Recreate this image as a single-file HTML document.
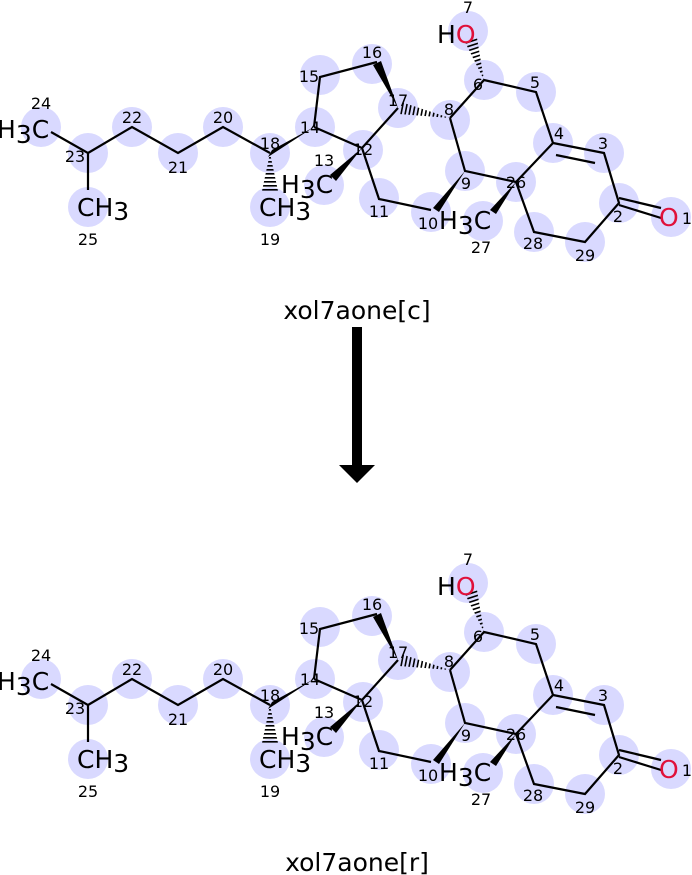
<!DOCTYPE html>
<html><head><meta charset="utf-8"><style>
html,body{margin:0;padding:0;background:#fff;}
svg{display:block;font-family:"DejaVu Sans","Liberation Sans",sans-serif;}
.c{fill:#d9d9ff;}
.b{stroke:#000;stroke-width:2.2;fill:none;}
.n{font-size:16px;text-anchor:middle;fill:#000;}
.a{font-size:25px;fill:#000;}
.t{font-size:25px;fill:#000;}
.o{fill:#e0103a;}
</style></head><body>
<svg width="692" height="875" viewBox="0 0 692 875" xmlns="http://www.w3.org/2000/svg">
<defs>
<clipPath id="h1"><polygon points="270,153 262,191 278,191"/></clipPath>
<clipPath id="h2"><polygon points="450,118 401,102 399,114"/></clipPath>
<clipPath id="h3"><polygon points="484,80 477,38 465,42"/></clipPath>
<clipPath id="h1b"><polygon points="270,705 262,743 278,743"/></clipPath>
<clipPath id="h2b"><polygon points="450,670 401,654 399,666"/></clipPath>
<clipPath id="h3b"><polygon points="484,632 477,590 465,594"/></clipPath>
</defs>

<g>
<g class="c">
<circle cx="41" cy="127" r="20"/><circle cx="88" cy="153" r="20"/><circle cx="88" cy="207" r="20"/>
<circle cx="132" cy="127" r="20"/><circle cx="178" cy="153" r="20"/><circle cx="223" cy="127" r="20"/>
<circle cx="270" cy="153" r="20"/><circle cx="270" cy="207" r="20"/><circle cx="315" cy="127" r="20"/>
<circle cx="320" cy="75" r="20"/><circle cx="372" cy="64" r="20"/><circle cx="398" cy="108" r="20"/>
<circle cx="363" cy="150" r="20"/><circle cx="324" cy="185" r="20"/><circle cx="379" cy="198" r="20"/>
<circle cx="431" cy="212" r="20"/><circle cx="465" cy="171" r="20"/><circle cx="450" cy="120" r="20"/>
<circle cx="484" cy="80" r="20"/><circle cx="468" cy="31" r="20"/><circle cx="536" cy="92" r="20"/>
<circle cx="553" cy="143" r="20"/><circle cx="604" cy="153" r="20"/><circle cx="619" cy="203" r="20"/>
<circle cx="671" cy="217" r="20"/><circle cx="585" cy="242" r="20"/><circle cx="534" cy="232" r="20"/>
<circle cx="516" cy="182" r="20"/><circle cx="483" cy="221" r="20"/>
</g>
<path class="b" d="M51,132 L88,153 L88,190 M88,153 L132,127 L178,153 L223,127 L270,153 M314,127 L362,148 M314,127 L320,77 L377,62 M398,108 L362,148 L379,199 L431,210 M450,118 L465,171 L516,182 M450,118 L484,80 L536,92 L553,143 L604,153 L619,203 L585,242 L534,232 L516,182 L553,143 M556,155 L595,163 M619,198 L661,208 M619,205 L661,218"/>
<polygon points="314,127 272,150 268,157"/>
<polygon points="398,108 381,61 373,65"/>
<polygon points="362,148 336,181 330,175"/>
<polygon points="465,171 439,212 433,208"/>
<polygon points="516,182 496,214 490,210"/>
<line x1="270" y1="153" x2="270" y2="191" stroke="#000" stroke-width="18" stroke-dasharray="1.6 2.4" clip-path="url(#h1)"/>
<line x1="450" y1="118" x2="399" y2="108" stroke="#000" stroke-width="18" stroke-dasharray="1.6 2.4" clip-path="url(#h2)"/>
<line x1="484" y1="80" x2="471" y2="40" stroke="#000" stroke-width="18" stroke-dasharray="1.6 2.4" clip-path="url(#h3)"/>
<g class="n">
<text x="41" y="109">24</text><text x="75" y="162">23</text><text x="88" y="245">25</text>
<text x="132" y="123">22</text><text x="178" y="173">21</text><text x="223" y="123">20</text>
<text x="270" y="149">18</text><text x="270" y="245">19</text><text x="310" y="133">14</text>
<text x="309" y="82">15</text><text x="372" y="58">16</text><text x="398" y="106">17</text>
<text x="363" y="155">12</text><text x="324" y="166">13</text><text x="379" y="217">11</text>
<text x="428" y="229">10</text><text x="466" y="189">9</text><text x="449" y="115">8</text>
<text x="478" y="90">6</text><text x="468" y="13">7</text><text x="535" y="88">5</text>
<text x="559" y="139">4</text><text x="603" y="149">3</text><text x="618" y="222">2</text>
<text x="585" y="261">29</text><text x="533" y="249">28</text><text x="516" y="188">26</text>
<text x="481" y="253">27</text><text x="687" y="224">1</text>
</g>
<g class="a">
<text x="-3" y="138">H<tspan dy="5">3</tspan><tspan dy="-5">C</tspan></text>
<text x="77" y="216">CH<tspan dy="4">3</tspan></text>
<text x="259" y="216">CH<tspan dy="4">3</tspan></text>
<text x="281" y="193">H<tspan dy="5">3</tspan><tspan dy="-5">C</tspan></text>
<text x="439" y="229">H<tspan dy="5">3</tspan><tspan dy="-5">C</tspan></text>
<text x="437" y="43">H<tspan class="o">O</tspan></text>
<text x="659" y="226" class="o">O</text>
</g>
</g>

<g>
<g class="c">
<circle cx="41" cy="679" r="20"/><circle cx="88" cy="705" r="20"/><circle cx="88" cy="759" r="20"/>
<circle cx="132" cy="679" r="20"/><circle cx="178" cy="705" r="20"/><circle cx="223" cy="679" r="20"/>
<circle cx="270" cy="705" r="20"/><circle cx="270" cy="759" r="20"/><circle cx="315" cy="679" r="20"/>
<circle cx="320" cy="627" r="20"/><circle cx="372" cy="616" r="20"/><circle cx="398" cy="660" r="20"/>
<circle cx="363" cy="702" r="20"/><circle cx="324" cy="737" r="20"/><circle cx="379" cy="750" r="20"/>
<circle cx="431" cy="764" r="20"/><circle cx="465" cy="723" r="20"/><circle cx="450" cy="672" r="20"/>
<circle cx="484" cy="632" r="20"/><circle cx="468" cy="583" r="20"/><circle cx="536" cy="644" r="20"/>
<circle cx="553" cy="695" r="20"/><circle cx="604" cy="705" r="20"/><circle cx="619" cy="755" r="20"/>
<circle cx="671" cy="769" r="20"/><circle cx="585" cy="794" r="20"/><circle cx="534" cy="784" r="20"/>
<circle cx="516" cy="734" r="20"/><circle cx="483" cy="773" r="20"/>
</g>
<path class="b" d="M51,684 L88,705 L88,742 M88,705 L132,679 L178,705 L223,679 L270,705 M314,679 L362,700 M314,679 L320,629 L377,614 M398,660 L362,700 L379,751 L431,762 M450,670 L465,723 L516,734 M450,670 L484,632 L536,644 L553,695 L604,705 L619,755 L585,794 L534,784 L516,734 L553,695 M556,707 L595,715 M619,750 L661,760 M619,757 L661,770"/>
<polygon points="314,679 272,702 268,709"/>
<polygon points="398,660 381,613 373,617"/>
<polygon points="362,700 336,733 330,727"/>
<polygon points="465,723 439,764 433,760"/>
<polygon points="516,734 496,766 490,762"/>
<line x1="270" y1="705" x2="270" y2="743" stroke="#000" stroke-width="18" stroke-dasharray="1.6 2.4" clip-path="url(#h1b)"/>
<line x1="450" y1="670" x2="399" y2="660" stroke="#000" stroke-width="18" stroke-dasharray="1.6 2.4" clip-path="url(#h2b)"/>
<line x1="484" y1="632" x2="471" y2="592" stroke="#000" stroke-width="18" stroke-dasharray="1.6 2.4" clip-path="url(#h3b)"/>
<g class="n">
<text x="41" y="661">24</text><text x="75" y="714">23</text><text x="88" y="797">25</text>
<text x="132" y="675">22</text><text x="178" y="725">21</text><text x="223" y="675">20</text>
<text x="270" y="701">18</text><text x="270" y="797">19</text><text x="310" y="685">14</text>
<text x="309" y="634">15</text><text x="372" y="610">16</text><text x="398" y="658">17</text>
<text x="363" y="707">12</text><text x="324" y="718">13</text><text x="379" y="769">11</text>
<text x="428" y="781">10</text><text x="466" y="741">9</text><text x="449" y="667">8</text>
<text x="478" y="642">6</text><text x="468" y="565">7</text><text x="535" y="640">5</text>
<text x="559" y="691">4</text><text x="603" y="701">3</text><text x="618" y="774">2</text>
<text x="585" y="813">29</text><text x="533" y="801">28</text><text x="516" y="740">26</text>
<text x="481" y="805">27</text><text x="687" y="776">1</text>
</g>
<g class="a">
<text x="-3" y="690">H<tspan dy="5">3</tspan><tspan dy="-5">C</tspan></text>
<text x="77" y="768">CH<tspan dy="4">3</tspan></text>
<text x="259" y="768">CH<tspan dy="4">3</tspan></text>
<text x="281" y="745">H<tspan dy="5">3</tspan><tspan dy="-5">C</tspan></text>
<text x="439" y="781">H<tspan dy="5">3</tspan><tspan dy="-5">C</tspan></text>
<text x="437" y="595">H<tspan class="o">O</tspan></text>
<text x="659" y="778" class="o">O</text>
</g>
</g>

<text x="357" y="319" class="t" text-anchor="middle">xol7aone[c]</text>
<rect x="352" y="327" width="10" height="140" fill="#000"/>
<polygon points="339,465 375,465 357,483" fill="#000"/>
<text x="357" y="871" class="t" text-anchor="middle">xol7aone[r]</text>
</svg>
</body></html>
